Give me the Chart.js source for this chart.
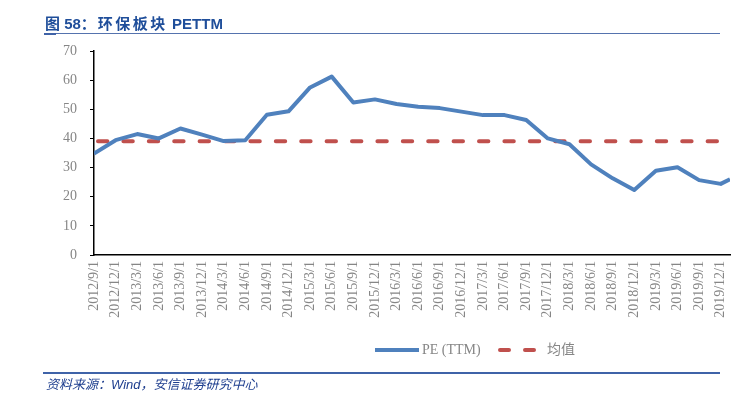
<!DOCTYPE html>
<html>
<head>
<meta charset="utf-8">
<script src="https://cdn.jsdelivr.net/npm/chart.js@4"></script>
<style>
  html, body { margin: 0; padding: 0; background: #fff; }
  #wrap { position: relative; width: 753px; height: 398px; overflow: hidden; }
  #c { position: absolute; left: 0; top: 0; }
  #title { position: absolute; left: 45px; top: 12px; font: bold 15px "Liberation Sans", Arial, "Noto Sans CJK SC", sans-serif; color: #1F4E9A; white-space: nowrap; }
  #title .cn { letter-spacing: 2.5px; margin-left: 2px; }
  #tline { position: absolute; left: 44px; top: 33px; width: 676px; height: 1px; background: #5573AE; }
  #tmark { position: absolute; left: 44px; top: 33px; width: 12px; height: 2px; background: #3F63A8; }
  #fline { position: absolute; left: 43px; top: 372px; width: 677px; height: 1.5px; background: #3F63A8; }
  #foot { position: absolute; left: 46px; top: 374px; font: italic 13px "Liberation Sans", Arial, "Noto Sans CJK SC", sans-serif; color: #1F3F8F; white-space: nowrap; }
</style>
</head>
<body>
<div id="wrap">
  <canvas id="c" width="753" height="398"></canvas>
  <div id="title">图 58：<span class="cn">环保板块</span> PETTM</div>
  <div id="tline"></div><div id="tmark"></div>
  <div id="fline"></div>
  <div id="foot">资料来源：Wind，安信证券研究中心</div>
</div>
<script>
// ---- data ----
const tickLabels = ['2012/9/1','2012/12/1','2013/3/1','2013/6/1','2013/9/1','2013/12/1','2014/3/1','2014/6/1','2014/9/1','2014/12/1','2015/3/1','2015/6/1','2015/9/1','2015/12/1','2016/3/1','2016/6/1','2016/9/1','2016/12/1','2017/3/1','2017/6/1','2017/9/1','2017/12/1','2018/3/1','2018/6/1','2018/9/1','2018/12/1','2019/3/1','2019/6/1','2019/9/1','2019/12/1'];
const pointDates = ['2012/9/1','2012/12/1','2013/3/1','2013/6/1','2013/9/1','2013/12/1','2014/3/1','2014/6/1','2014/9/1','2014/12/1','2015/3/1','2015/6/1','2015/9/1','2015/12/1','2016/3/1','2016/6/1','2016/9/1','2016/12/1','2017/3/1','2017/6/1','2017/9/1','2017/12/1','2018/3/1','2018/6/1','2018/9/1','2018/12/1','2019/3/1','2019/6/1','2019/9/1','2019/12/1','2020/1/10'];
const peTTM = [34.8,39.4,41.5,40.0,43.4,41.3,39.1,39.4,48.1,49.3,57.5,61.2,52.3,53.4,51.8,50.9,50.4,49.2,48.0,48.0,46.3,40.0,38.0,31.1,26.3,22.3,28.9,30.1,25.7,24.4,26.0];
const meanValue = 39.0;
const seriesNames = ['PE (TTM)', '均值'];
const yMin = 0, yMax = 70, yStep = 10;

// months since first date
function monthsOf(s) {
  const [y, m, d] = s.split('/').map(Number);
  const [y0, m0] = pointDates[0].split('/').map(Number);
  return (y - y0) * 12 + (m - m0) + (d - 1) / 31;
}
const peData = pointDates.map((d, i) => ({ x: monthsOf(d), y: peTTM[i] }));
const meanData = pointDates.map(d => ({ x: monthsOf(d), y: meanValue }));
const tickPos = tickLabels.map(monthsOf);

const BLUE = '#4F81BD', RED = '#C0504D', GREY = '#868686';
const SERIF = '"Liberation Serif", "Times New Roman", "Noto Sans CJK SC", serif';

const legendPlugin = {
  id: 'customLegend',
  afterDraw(chart) {
    const ctx = chart.ctx;
    const y = 350;
    ctx.save();
    ctx.lineWidth = 4;
    ctx.lineCap = 'butt';
    ctx.strokeStyle = BLUE;
    ctx.beginPath(); ctx.moveTo(375, y); ctx.lineTo(419, y); ctx.stroke();
    ctx.font = '14px ' + SERIF;
    ctx.fillStyle = GREY;
    ctx.textBaseline = 'middle';
    ctx.textAlign = 'left';
    ctx.fillText(seriesNames[0], 422, y);
    ctx.strokeStyle = RED;
    ctx.lineCap = 'round';
    ctx.setLineDash([9, 16]);
    ctx.beginPath(); ctx.moveTo(500, y); ctx.lineTo(537, y); ctx.stroke();
    ctx.setLineDash([]);
    ctx.fillText(seriesNames[1], 547, y);
    ctx.restore();
  }
};

new Chart(document.getElementById('c'), {
  type: 'line',
  data: {
    datasets: [
      { label: seriesNames[0], data: peData, borderColor: BLUE, borderWidth: 4, pointRadius: 0, tension: 0, borderJoinStyle: 'round', borderCapStyle: 'butt', fill: false, order: 1 },
      { label: seriesNames[1], data: meanData, borderColor: RED, borderWidth: 4, pointRadius: 0, tension: 0, borderDash: [9.4, 16], borderDashOffset: -4, borderCapStyle: 'round', fill: false, order: 2 }
    ]
  },
  options: {
    responsive: false,
    devicePixelRatio: 1,
    animation: false,
    layout: { padding: { top: 51, right: 23, left: 0, bottom: 0 } },
    plugins: { legend: { display: false }, title: { display: false }, tooltip: { enabled: false } },
    scales: {
      x: {
        type: 'linear',
        min: 0,
        max: monthsOf(pointDates[pointDates.length - 1]),
        afterBuildTicks(scale) { scale.ticks = tickPos.map(v => ({ value: v })); },
        afterFit(scale) { scale.height = 143; },
        border: { display: true, color: '#000', width: 1.5 },
        grid: { display: true, drawOnChartArea: false, drawTicks: false },
        ticks: {
          autoSkip: false, maxRotation: 90, minRotation: 90, padding: 6,
          color: GREY, font: { family: SERIF, size: 14 },
          callback(value, index) { return tickLabels[index]; }
        }
      },
      y: {
        min: yMin, max: yMax,
        afterFit(scale) { scale.width = 94; },
        border: { display: true, color: '#000', width: 1.5 },
        grid: { display: true, drawOnChartArea: false, drawTicks: true, tickLength: 4, color: '#000', tickWidth: 1 },
        ticks: { stepSize: yStep, padding: 13, color: GREY, font: { family: SERIF, size: 14 } }
      }
    }
  },
  plugins: [legendPlugin]
});
</script>
</body>
</html>
